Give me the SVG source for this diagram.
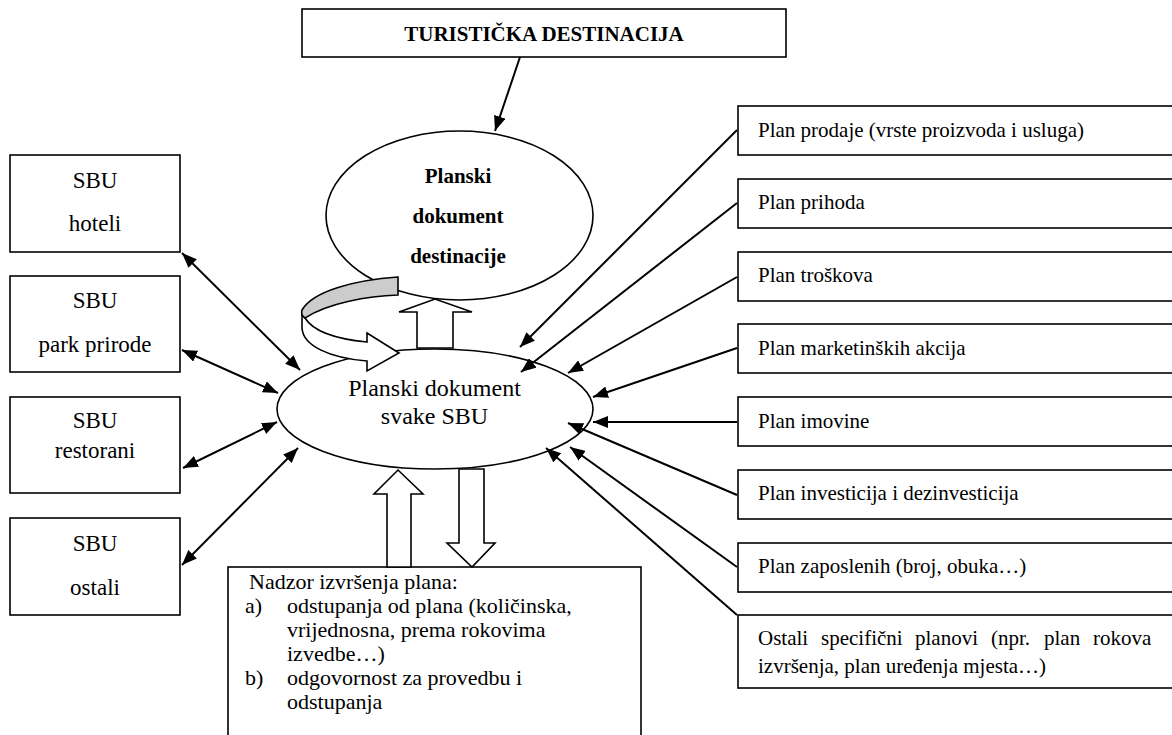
<svg xmlns="http://www.w3.org/2000/svg" width="1172" height="735" viewBox="0 0 1172 735">
<style>
.box{fill:#fff;stroke:#000;stroke-width:1.6}
.ell{fill:#fff;stroke:#000;stroke-width:1.6}
.blk{fill:#fff;stroke:#000;stroke-width:1.6;stroke-linejoin:miter}
.t{font-family:"Liberation Serif","Times New Roman",serif;fill:#000}
.c{text-anchor:middle}
.b{font-weight:bold}
.con line{stroke:#000;stroke-width:2}
</style>
<defs>
<marker id="ah" viewBox="0 0 15 12" refX="15" refY="6" markerWidth="15" markerHeight="12" markerUnits="userSpaceOnUse" orient="auto-start-reverse">
<path d="M0,0 L15,6 L0,12 Z" fill="#000"/>
</marker>
</defs>
<rect width="1172" height="735" fill="#fff"/>

<g id="turisticka-destinacija">
<rect class="box" x="302" y="9" width="484" height="48"/>
<text class="t c b" x="544" y="41" font-size="21">TURISTIČKA DESTINACIJA</text>
</g>

<g id="planski-dokument-destinacije">
<ellipse class="ell" cx="459.5" cy="215.5" rx="133.5" ry="84.5"/>
<text class="t c b" x="458" y="183" font-size="21">Planski</text>
<text class="t c b" x="458" y="223" font-size="21">dokument</text>
<text class="t c b" x="458" y="263" font-size="21">destinacije</text>
</g>

<g id="planski-dokument-sbu">
<ellipse class="ell" cx="435" cy="409" rx="158" ry="60"/>
<text class="t c" x="434.5" y="396" font-size="24">Planski dokument</text>
<text class="t c" x="434.5" y="424" font-size="24">svake SBU</text>
</g>

<g id="sbu-hoteli">
<rect class="box" x="10" y="155" width="170" height="97"/>
<text class="t c" x="95" y="188" font-size="23">SBU</text>
<text class="t c" x="95" y="231" font-size="23">hoteli</text>
</g>
<g id="sbu-park-prirode">
<rect class="box" x="10" y="276" width="170" height="96"/>
<text class="t c" x="95" y="308" font-size="23">SBU</text>
<text class="t c" x="95" y="352" font-size="23">park prirode</text>
</g>
<g id="sbu-restorani">
<rect class="box" x="10" y="397" width="170" height="96"/>
<text class="t c" x="95" y="428" font-size="23">SBU</text>
<text class="t c" x="95" y="458" font-size="23">restorani</text>
</g>
<g id="sbu-ostali">
<rect class="box" x="10" y="518" width="170" height="97"/>
<text class="t c" x="95" y="551" font-size="23">SBU</text>
<text class="t c" x="95" y="595" font-size="23">ostali</text>
</g>

<g id="plan-prodaje">
<rect class="box" x="738" y="106" width="450" height="49"/>
<text class="t" x="758" y="137" font-size="21">Plan prodaje (vrste proizvoda i usluga)</text>
</g>
<g id="plan-prihoda">
<rect class="box" x="738" y="179" width="450" height="49"/>
<text class="t" x="758" y="209" font-size="21">Plan prihoda</text>
</g>
<g id="plan-troskova">
<rect class="box" x="738" y="252" width="450" height="49"/>
<text class="t" x="758" y="282" font-size="21">Plan troškova</text>
</g>
<g id="plan-marketinskih-akcija">
<rect class="box" x="738" y="324" width="450" height="49"/>
<text class="t" x="758" y="355" font-size="21">Plan marketinških akcija</text>
</g>
<g id="plan-imovine">
<rect class="box" x="738" y="397" width="450" height="49"/>
<text class="t" x="758" y="428" font-size="21">Plan imovine</text>
</g>
<g id="plan-investicija">
<rect class="box" x="738" y="470" width="450" height="49"/>
<text class="t" x="758" y="500" font-size="21">Plan investicija i dezinvesticija</text>
</g>
<g id="plan-zaposlenih">
<rect class="box" x="738" y="543" width="450" height="49"/>
<text class="t" x="758" y="573" font-size="21">Plan zaposlenih (broj, obuka…)</text>
</g>
<g id="ostali-planovi">
<rect class="box" x="738" y="615" width="450" height="73"/>
<text class="t" y="645" font-size="21"><tspan x="758">Ostali</tspan><tspan x="821">specifični</tspan><tspan x="915">planovi</tspan><tspan x="991">(npr.</tspan><tspan x="1044">plan</tspan><tspan x="1093">rokova</tspan></text>
<text class="t" x="758" y="673" font-size="21">izvršenja, plan uređenja mjesta…)</text>
</g>

<g id="nadzor">
<rect class="box" x="228" y="567" width="413" height="190"/>
<text class="t" font-size="22">
<tspan x="249" y="589">Nadzor izvršenja plana:</tspan>
<tspan x="245" y="613">a)</tspan><tspan x="287" y="613">odstupanja od plana (količinska,</tspan>
<tspan x="287" y="637">vrijednosna, prema rokovima</tspan>
<tspan x="287" y="661">izvedbe…)</tspan>
<tspan x="245" y="685">b)</tspan><tspan x="287" y="685">odgovornost za provedbu i</tspan>
<tspan x="287" y="709">odstupanja</tspan>
</text>
</g>

<g id="block-arrows">
<polygon class="blk" points="417,348 417,312 399,312 435,299 472,312 453,312 453,348"/>
<polygon class="blk" points="387,567 387,494 374,494 398,470 423,494 411,494 411,567"/>
<polygon class="blk" points="459,469 459,543 447,543 472,567 495,543 484,543 484,469"/>
</g>

<g id="curved-arrow">
<path class="blk" d="M305,318 C313,331 336,339 367,342 L367,333 L399,353 L367,371 L367,361 C330,358 303,346 302,328 L302,310 C302,313 303,316 305,318 Z"/>
<path d="M398,277 L398,295 C368,296 328,303 305,318 C302,316 301,313 302,310 C313,291 355,280 398,277 Z" fill="#cccccc" stroke="#000" stroke-width="1.6"/>
</g>

<g id="connectors" class="con">
<line x1="520" y1="57" x2="495" y2="131" marker-end="url(#ah)"/>
<line x1="182" y1="253" x2="300" y2="370" marker-start="url(#ah)" marker-end="url(#ah)"/>
<line x1="182" y1="350" x2="278" y2="393" marker-start="url(#ah)" marker-end="url(#ah)"/>
<line x1="183" y1="468" x2="277" y2="422" marker-start="url(#ah)" marker-end="url(#ah)"/>
<line x1="182" y1="565" x2="298" y2="448" marker-start="url(#ah)" marker-end="url(#ah)"/>
<line x1="737" y1="130" x2="520" y2="347" marker-end="url(#ah)"/>
<line x1="737" y1="203" x2="521" y2="372" marker-end="url(#ah)"/>
<line x1="737" y1="277" x2="568" y2="373" marker-end="url(#ah)"/>
<line x1="737" y1="348" x2="593" y2="397" marker-end="url(#ah)"/>
<line x1="737" y1="422" x2="593" y2="422" marker-end="url(#ah)"/>
<line x1="737" y1="495" x2="568" y2="423" marker-end="url(#ah)"/>
<line x1="737" y1="567" x2="570" y2="447" marker-end="url(#ah)"/>
<line x1="737" y1="615" x2="546" y2="448" marker-end="url(#ah)"/>
</g>
</svg>
